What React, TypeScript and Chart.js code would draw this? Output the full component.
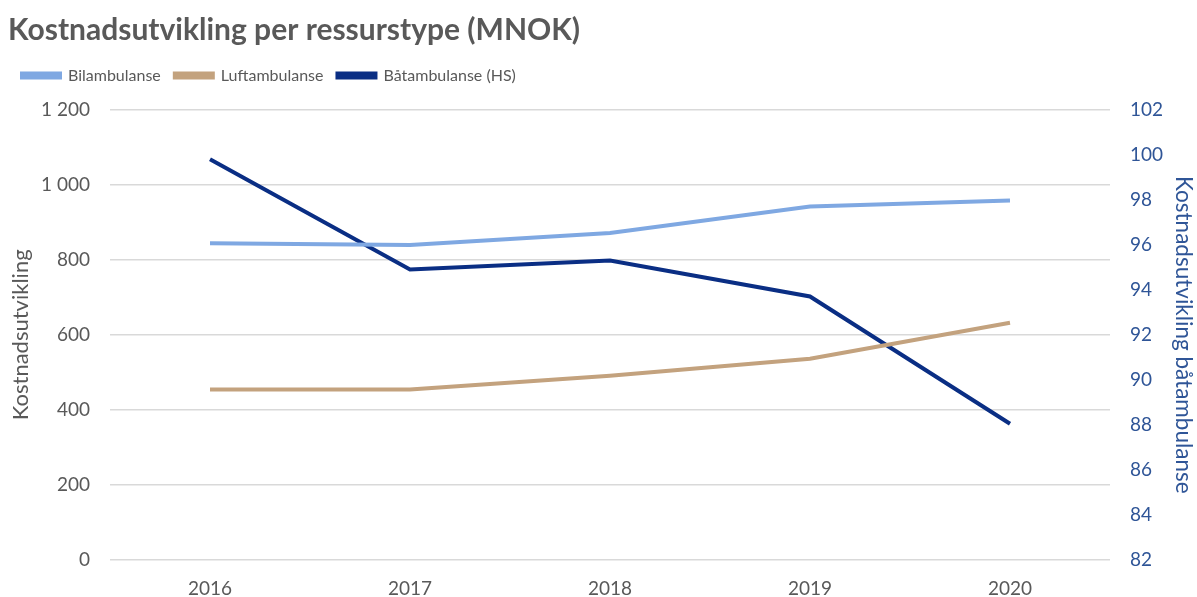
import React, { useEffect, useRef } from "react";
import { Chart, registerables } from "chart.js";

Chart.register(...registerables);

const years = ["2016", "2017", "2018", "2019", "2020"];
const bilambulanse = [844, 839, 871, 942, 958];
const luftambulanse = [454, 454, 491, 536, 632];
const baatambulanse = [99.8, 94.9, 95.3, 93.7, 88.05];

const FONT = "Lato, 'Noto Sans', sans-serif";
const GREY = "#595959";
const BLUE_TXT = "#2F5597";

export default function App() {
  const ref = useRef<HTMLCanvasElement | null>(null);

  useEffect(() => {
    document.body.style.margin = "0";
    const legendPad = {
      id: "legendPad",
      beforeInit(chart: any) {
        const orig = chart.legend.fit;
        chart.legend.fit = function () {
          orig.bind(chart.legend)();
          this.height += 16;
        };
      },
    };
    const chart = new Chart(ref.current as HTMLCanvasElement, {
      type: "line",
      data: {
        labels: years,
        datasets: [
          {
            label: "Bilambulanse",
            data: bilambulanse,
            borderColor: "#7FA8E2",
            backgroundColor: "#7FA8E2",
            borderWidth: 4,
            pointRadius: 0,
            yAxisID: "y",
          },
          {
            label: "Luftambulanse",
            data: luftambulanse,
            borderColor: "#C3A27E",
            backgroundColor: "#C3A27E",
            borderWidth: 4,
            pointRadius: 0,
            yAxisID: "y",
          },
          {
            label: "Båtambulanse (HS)",
            data: baatambulanse,
            borderColor: "#0A2E84",
            backgroundColor: "#0A2E84",
            borderWidth: 4,
            pointRadius: 0,
            yAxisID: "y2",
          },
        ],
      },
      options: {
        animation: false,
        responsive: false,
        layout: { padding: { left: 8, right: 0, top: 0, bottom: 0 } },
        plugins: {
          title: {
            display: true,
            text: "Kostnadsutvikling per ressurstype (MNOK)",
            align: "start",
            color: GREY,
            font: { family: FONT, size: 30, weight: "bold" },
            padding: { top: 12, bottom: 5.6 },
          },
          legend: {
            display: true,
            align: "start",
            labels: {
              color: GREY,
              font: { family: FONT, size: 16 },
              boxWidth: 38,
              boxHeight: 4,
              padding: 14,
            },
          },
          tooltip: { enabled: false },
        },
        scales: {
          x: {
            offset: true,
            grid: { display: false, drawTicks: false },
            border: { display: false },
            ticks: { color: GREY, font: { family: FONT, size: 19 }, padding: 17 },
            afterFit: (s: any) => {
              s.height = 37;
            },
          },
          y: {
            position: "left",
            min: 0,
            max: 1200,
            ticks: {
              stepSize: 200,
              color: GREY,
              font: { family: FONT, size: 19 },
              padding: 20,
              callback: (v: any) => {
                const n = Number(v);
                return n >= 1000 ? Math.floor(n / 1000) + " " + String(n % 1000).padStart(3, "0") : String(n);
              },
            },
            grid: { color: "#D9D9D9", lineWidth: 1.5, drawTicks: false },
            border: { display: false },
            title: {
              display: true,
              text: "Kostnadsutvikling",
              color: GREY,
              font: { family: FONT, size: 22 },
              padding: 0,
            },
            afterFit: (s: any) => {
              s.width = 102;
            },
          },
          y2: {
            position: "right",
            min: 82,
            max: 102,
            ticks: {
              stepSize: 2,
              color: BLUE_TXT,
              font: { family: FONT, size: 19 },
              padding: 20,
            },
            grid: { drawOnChartArea: false, drawTicks: false },
            border: { display: false },
            title: {
              display: true,
              text: "Kostnadsutvikling båtambulanse",
              color: BLUE_TXT,
              font: { family: FONT, size: 22.5 },
              padding: 0,
            },
            afterFit: (s: any) => {
              s.width = 87;
            },
          },
        },
      },
      plugins: [legendPad],
    } as any);
    return () => chart.destroy();
  }, []);

  return (
    <div style={{ width: 1197, height: 597, background: "#fff" }}>
      <canvas ref={ref} width={1197} height={597} />
    </div>
  );
}
